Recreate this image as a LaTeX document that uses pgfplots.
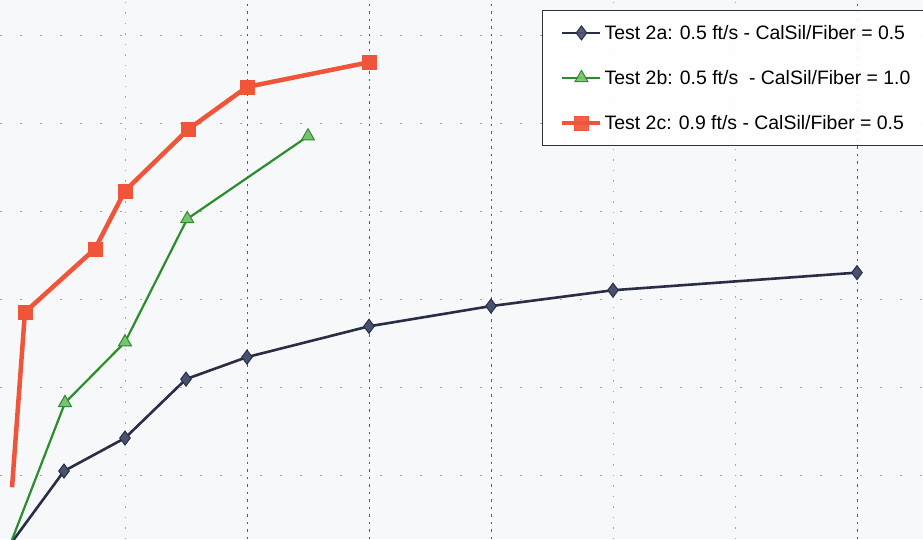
\documentclass[border=0pt]{standalone}
\usepackage{fontspec}
\setmainfont{Liberation Sans}
\usepackage{pgfplots}
\pgfplotsset{compat=1.18}
\definecolor{navyln}{RGB}{40,46,70}
\definecolor{navymk}{RGB}{70,82,112}
\definecolor{grnln}{RGB}{45,140,45}
\definecolor{grnmk}{RGB}{120,195,115}
\definecolor{redln}{RGB}{240,85,58}
\definecolor{bgc}{RGB}{246,248,250}
\begin{document}
\begin{tikzpicture}
\begin{axis}[
  width=923bp, height=539bp, scale only axis,
  xmin=-0.0246, xmax=7.541, ymin=0.273, ymax=6.398,
  axis background/.style={fill=bgc},
  axis line style={draw=none},
  tick style={draw=none},
  xtick={2,3,4,7}, ytick={1,2,3,4,5,6},
  extra x ticks={1,5,6}, extra x tick labels={},
  extra x tick style={xmajorgrids=true, major grid style={black!35, line width=0.8bp, dash pattern=on 1.5bp off 9bp}},
  xticklabels={}, yticklabels={},
  grid=major,
  major grid style={black!65, line width=1bp, dash pattern=on 2.5bp off 5bp},
  y grid style={black!35, line width=0.8bp, dash pattern=on 2bp off 18bp},
  legend cell align=left,
  legend style={at={(rel axis cs:0.587,0.981)}, anchor=north west,
    draw=black!80, line width=0.8bp, fill=white, fill opacity=0.92, text opacity=1,
    inner xsep=18bp, inner ysep=12.5bp, row sep=25.5bp,
    font=\fontsize{19.5}{23}\selectfont},
  legend image code/.code={\draw[mark=none] (0bp,0bp)--(38bp,0bp); \path plot coordinates {(19bp,0bp)};},
]
\addplot[color=navyln, line width=2.6bp, mark=diamond*, mark size=7bp,
  mark options={fill=navymk, draw=navyln, line width=1bp}]
  coordinates {(0,0.1) (0.5,1.045) (1,1.42) (1.5,2.09) (2,2.34) (3,2.69) (4,2.92) (5,3.10) (7,3.30)};
\addlegendentry{Test 2a: 0.5 ft/s - CalSil/Fiber = 0.5}
\addplot[color=grnln, line width=2.2bp, mark=triangle*, mark size=7.5bp,
  mark options={fill=grnmk, draw=grnln, line width=1bp}]
  coordinates {(0,0) (0.508,1.82) (1,2.51) (1.51,3.91) (2.5,4.85)};
\addlegendentry{Test 2b: 0.5 ft/s\ \ - CalSil/Fiber = 1.0}
\addplot[color=redln, line width=4.5bp, mark=square*, mark size=7bp,
  mark options={fill=redln, draw=redln, line width=0.5bp}]
  coordinates {(0.18,2.85) (0.754,3.57) (1.0,4.23) (1.52,4.93) (2.0,5.41) (3.0,5.69)};
\addlegendentry{Test 2c: 0.9 ft/s - CalSil/Fiber = 0.5}
\addplot[forget plot, color=redln, line width=4.5bp, mark=none]
  coordinates {(0.074,0.86) (0.18,2.85)};
\end{axis}
\pgfresetboundingbox
\path (current axis.south west) rectangle (current axis.north east);
\end{tikzpicture}
\end{document}
